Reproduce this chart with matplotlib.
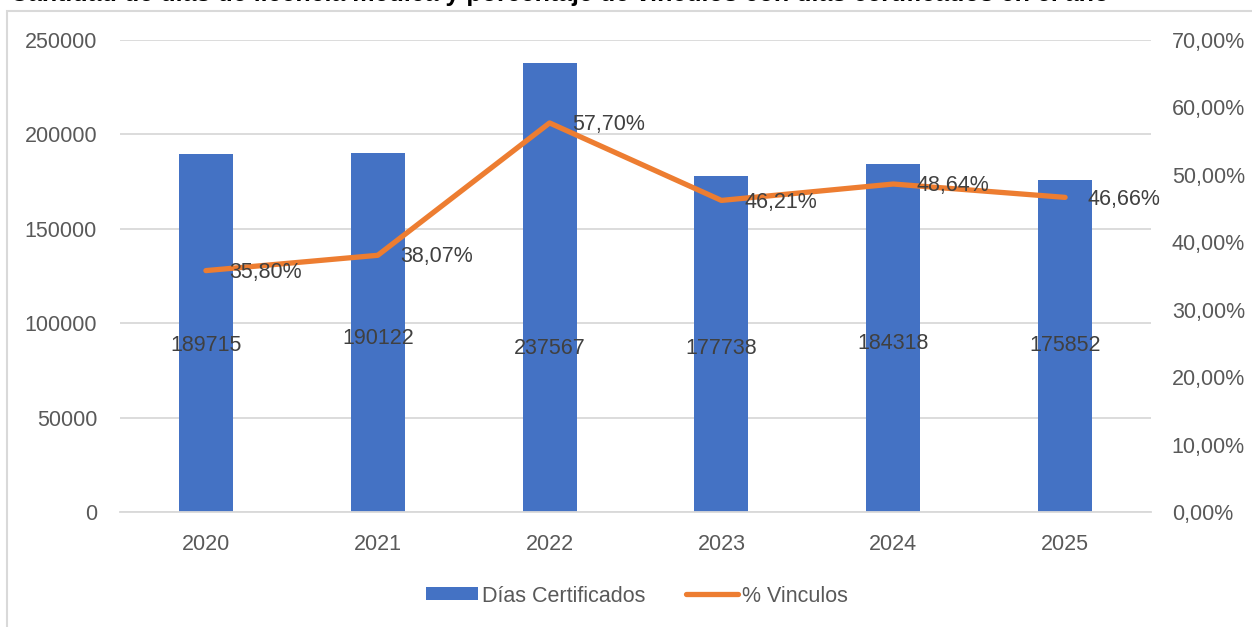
import matplotlib
matplotlib.use("Agg")
import matplotlib.pyplot as plt
from matplotlib.patches import Rectangle, Patch
from matplotlib.lines import Line2D
from matplotlib.ticker import FuncFormatter

years = ["2020", "2021", "2022", "2023", "2024", "2025"]
dias_certificados = [189715, 190122, 237567, 177738, 184318, 175852]
pct_vinculos = [0.3580, 0.3807, 0.5770, 0.4621, 0.4864, 0.4666]
bar_label_y = [88450, 92160, 86340, 86340, 89510, 88450]

title = "Cantidad de días de licencia médica y porcentaje de vínculos con días certificados en el año"

W, H = 1252, 627
plt.rcParams['font.family'] = ['Liberation Sans', 'DejaVu Sans']
fig = plt.figure(figsize=(W / 100, H / 100), dpi=100)
fig.patch.set_facecolor("white")

# outer chart frame
fig.add_artist(Rectangle((7 / W, -0.2), 1.5, (H - 11) / H + 0.2, transform=fig.transFigure,
                         fill=False, edgecolor="#D9D9D9", lw=1.5))
# title cut off at the top (as in the reference)
fig.text(10 / W, 1 - 0.9 / H, title, ha="left", va="baseline", fontsize=18,
         fontweight="bold", color="#000000")

left, right = 120 / W, 1151 / W
bottom, top = 1 - 512 / H, 1 - 40 / H
ax = fig.add_axes([left, bottom, right - left, top - bottom])
ax2 = ax.twinx()

blue = "#4472C4"
orange = "#ED7D31"
gray = "#595959"
lab = "#404040"
fs = 15.5

x = list(range(len(years)))
ax.bar(x, dias_certificados, width=0.314, color=blue, zorder=2)
ax.set_xlim(-0.5, len(years) - 0.5)
ax.set_ylim(0, 250000)
ax.set_yticks(range(0, 250001, 50000))
ax.yaxis.grid(True, color="#D9D9D9", lw=1.3, zorder=0)
ax.set_axisbelow(True)
for s in ["top", "left", "right"]:
    ax.spines[s].set_visible(False)
ax.spines["bottom"].set_color("#D9D9D9")
ax.spines["bottom"].set_linewidth(1.3)
ax.set_xticks(x)
ax.set_xticklabels(years)
ax.tick_params(axis="both", length=0, labelsize=fs, labelcolor=gray)
ax.tick_params(axis="y", pad=16.5)
ax.tick_params(axis="x", pad=16)

for xi, v, ly in zip(x, dias_certificados, bar_label_y):
    ax.text(xi, ly, f"{v}", ha="center", va="center", fontsize=fs, color=lab, zorder=5)

ax2.plot(x, pct_vinculos, color=orange, lw=3.8, solid_capstyle="round",
         solid_joinstyle="round", zorder=3)
ax2.set_ylim(0, 0.70)
ax2.set_yticks([i / 10 for i in range(8)])
ax2.yaxis.set_major_formatter(FuncFormatter(lambda v, p: f"{v*100:.2f}%".replace(".", ",")))
ax2.tick_params(axis="y", length=0, labelsize=fs, labelcolor=gray, pad=15)
for s in ["top", "left", "right", "bottom"]:
    ax2.spines[s].set_visible(False)
for xi, v in zip(x, pct_vinculos):
    ax2.annotate(f"{v*100:.2f}%".replace(".", ","), (xi, v), xytext=(16.5, -1.2),
                 textcoords="offset points", ha="left", va="center",
                 fontsize=fs, color=lab, zorder=6)

handles = [Patch(facecolor=blue, edgecolor="none", label="Días Certificados"),
           Line2D([0], [0], color=orange, lw=3.8, solid_capstyle="round", label="% Vinculos")]
fig.legend(handles=handles, loc="center", bbox_to_anchor=(0.5 + 11 / W, 1 - 596 / H), ncol=2,
           frameon=False, fontsize=fs, labelcolor=gray, handlelength=2.4,
           handleheight=0.55, handletextpad=0.2, columnspacing=1.9)

fig.savefig("out.png", dpi=100, facecolor="white")
